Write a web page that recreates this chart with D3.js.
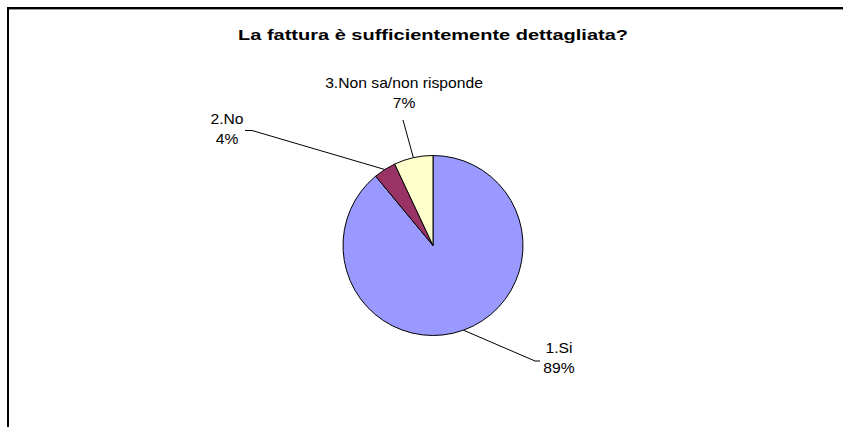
<!DOCTYPE html>
<html>
<head>
<meta charset="utf-8">
<script src="https://cdn.jsdelivr.net/npm/d3@7"></script>
<style>
  html, body { margin: 0; padding: 0; background: #fff; }
  svg { display: block; }
  text { font-family: "Liberation Sans", Arial, sans-serif; fill: #000; }
</style>
</head>
<body>
<svg id="chart" width="843" height="427"></svg>
<script>
// ---- data ----
const title = "La fattura è sufficientemente dettagliata?";
const categories = ["1.Si", "2.No", "3.Non sa/non risponde"];
const values = [89, 4, 7];
const percentLabels = ["89%", "4%", "7%"];
const colors = ["#9999FF", "#993366", "#FFFFCC"];

// ---- layout (positions only) ----
const W = 843, H = 427;
const cx = 433, cy = 245.5, R = 90;
// leader-line elbow/end points and label anchors (label centre x, first baseline y)
const leaderEnds = [
  [[535, 361], [540, 361]],
  [[252, 130.5], [245, 130.5]],
  [[403, 120]]
];
const labelAnchors = [[559, 353], [227, 124], [404, 88]];
const lineGap = 20;
const labelStretch = 1.12;

const svg = d3.select("#chart");

// frame (only top and left edges visible in the crop)
svg.append("rect")
  .attr("x", 8).attr("y", 8)
  .attr("width", W + 20).attr("height", H + 20)
  .attr("fill", "none").attr("stroke", "#000").attr("stroke-width", 2);
svg.append("line")
  .attr("x1", 9).attr("x2", W).attr("y1", 9.5).attr("y2", 9.5)
  .attr("stroke", "#999").attr("stroke-width", 1);

// title
svg.append("text")
  .attr("x", cx).attr("y", 40)
  .attr("text-anchor", "middle")
  .style("font-size", "15.5px").style("font-weight", "bold")
  .attr("textLength", 390).attr("lengthAdjust", "spacingAndGlyphs")
  .text(title);

// pie
const pie = d3.pie().sort(null).value(d => d)
  .startAngle(0).endAngle(2 * Math.PI);
const arcs = pie(values);
const arc = d3.arc().innerRadius(0).outerRadius(R);

const g = svg.append("g").attr("transform", `translate(${cx},${cy})`);
g.selectAll("path.slice")
  .data(arcs)
  .join("path")
  .attr("class", "slice")
  .attr("d", arc)
  .attr("fill", (d, i) => colors[i])
  .attr("stroke", "#000")
  .attr("stroke-width", 1)
  .attr("stroke-linejoin", "round");

// leader lines from slice mid-angle on the rim
arcs.forEach((d, i) => {
  const a = (d.startAngle + d.endAngle) / 2;
  const start = [cx + R * Math.sin(a), cy - R * Math.cos(a)];
  const pts = [start].concat(leaderEnds[i]);
  svg.append("path")
    .attr("d", d3.line()(pts))
    .attr("fill", "none")
    .attr("stroke", "#000")
    .attr("stroke-width", 1);
});

// labels (slightly wide glyphs, as in the reference)
categories.forEach((c, i) => {
  const [x, y] = labelAnchors[i];
  const t = svg.append("text")
    .attr("transform", `translate(${x},${y}) scale(${labelStretch},1)`)
    .attr("text-anchor", "middle")
    .style("font-size", "14px");
  t.append("tspan").attr("x", 0).attr("y", 0).text(c);
  t.append("tspan").attr("x", 0).attr("y", lineGap).text(percentLabels[i]);
});
</script>
</body>
</html>
